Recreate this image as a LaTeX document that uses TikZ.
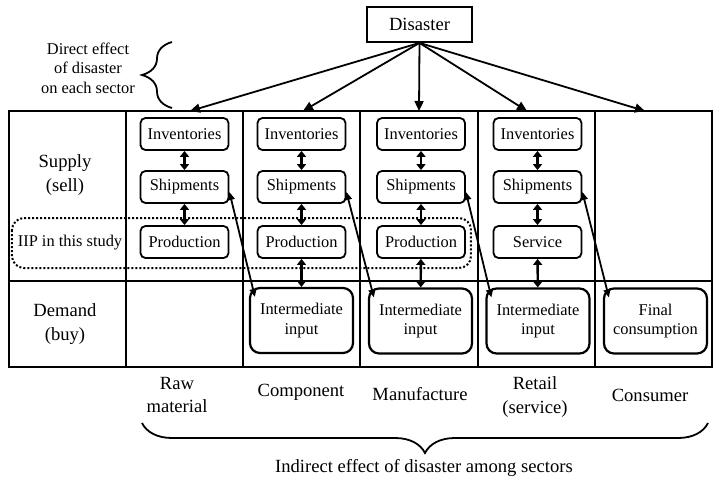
\documentclass[tikz,border=0pt]{standalone}
\usepackage{fontspec}
\setmainfont{Liberation Serif}
\usetikzlibrary{arrows.meta,decorations.pathreplacing}
\begin{document}
\begin{tikzpicture}[x=0.5pt,y=-0.5pt,
 small/.style={font=\fontsize{8.2}{9.8}\selectfont,align=center},
 big/.style={font=\fontsize{9.3}{11.8}\selectfont,align=center},
 box/.style={small,draw,line width=0.9pt,rounded corners=2.5pt,minimum width=44pt,minimum height=16pt,inner sep=0pt},
 dembox/.style={small,draw,line width=1.1pt,rounded corners=5pt,minimum width=51.5pt,minimum height=32.5pt,inner sep=0pt},
 tip/.style={line width=0.9pt,-{Triangle[length=5pt,width=4.5pt]}},
 twoway/.style={line width=1.2pt,{Triangle[length=3pt,width=4.5pt]}-{Triangle[length=3pt,width=4.5pt]}},
 brc/.style={line width=0.9pt,decorate,decoration={brace,amplitude=15pt}}]
 \useasboundingbox (0,0) rectangle (720,488);
 \draw[line width=1pt](9,111) rectangle (712,367);
 \draw[line width=1pt](9,281)--(712,281);
 \foreach \x in {126,243,360,478,595} \draw[line width=1pt](\x,111)--(\x,367);
 \draw[line width=1pt,densely dotted,rounded corners=6pt](12,218) rectangle (471,268);
 \node[big,draw,line width=0.9pt,minimum width=52.5pt,minimum height=17.5pt,inner sep=0pt] (dis) at (419.5,24.5) {Disaster};
 \foreach \i/\x in {1/190,2/303,3/419,4/527,5/645} {
  \coordinate (top\i) at (\x,111);
  \draw[tip] (dis.south) -- (top\i);
 }
 \foreach \c/\x/\t in {1/184.5/Production,2/301.5/Production,3/421/Production,4/537.5/Service} {
  \node[box] (inv\c) at (\x,134) {Inventories};
  \node[box] (shp\c) at (\x,187) {Shipments};
  \node[box] (prd\c) at (\x,242) {\t};
  \draw[twoway] (inv\c) -- (shp\c);
  \draw[twoway] (shp\c) -- (prd\c);
 }
 \node[dembox] (dem2) at (301.5,320.5) {Intermediate\\input};
 \node[dembox] (dem3) at (420.5,321) {Intermediate\\input};
 \node[dembox] (dem4) at (538,321) {Intermediate\\input};
 \node[dembox] (dem5) at (655.5,321) {Final\\consumption};
 \foreach \c in {2,3,4} \draw[twoway] (prd\c) -- (dem\c);
 \foreach \c/\d in {1/2,2/3,3/4,4/5}
  \draw[line width=0.9pt,{Triangle[length=4pt,width=3.5pt]}-{Triangle[length=4pt,width=3.5pt]}] ([yshift=-2.5pt]shp\c.east) -- ([shift={(6,10)}]dem\d.north west);
 \node[big] (supply) at (65,175) {Supply\\(sell)};
 \node[small] (iip) at (70,243) {IIP in this study};
 \node[big] (demand) at (65,324) {Demand\\(buy)};
 \node[big] (raw) at (177,395) {Raw\\material};
 \node[big] (comp) at (301,392) {Component};
 \node[big] (manu) at (420,394) {Manufacture};
 \node[big] (retail) at (535,397) {Retail\\(service)};
 \node[big] (cons) at (650,395) {Consumer};
 \node[small] (direct) at (88,68) {Direct effect\\of disaster\\on each sector};
 \draw[brc] (172,108) -- (172,42);
 \draw[brc] (708,423) -- (142,423);
 \node[big] (indirect) at (424,468) {Indirect effect of disaster among sectors};
\end{tikzpicture}
\end{document}
